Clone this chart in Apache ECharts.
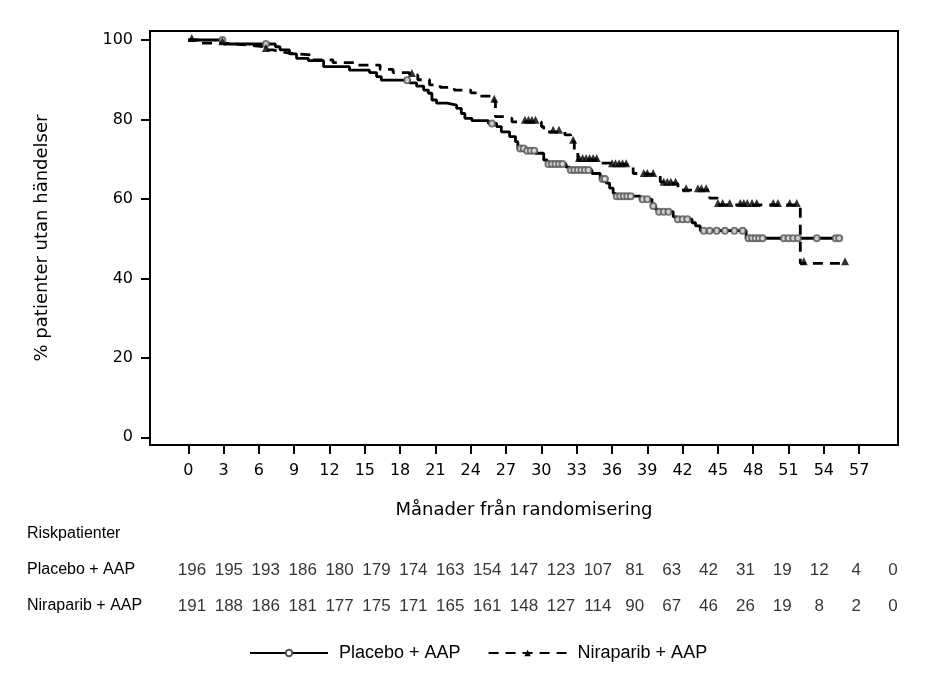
<!DOCTYPE html>
<html>
<head>
<meta charset="utf-8">
<script src="https://cdn.jsdelivr.net/npm/echarts@6/dist/echarts.min.js"></script>
<style>
html,body{margin:0;padding:0;background:#fff;}
#chart{width:945px;height:688px;}
</style>
</head>
<body>
<div id="chart"></div>
<script>
// ---- Data ----
const xTicks = [0,3,6,9,12,15,18,21,24,27,30,33,36,39,42,45,48,51,54,57];
const yTicks = [0,20,40,60,80,100];

const placeboTimes = [0,3.0,7.4,7.8,8.6,9.2,10.2,11.5,13.7,15.4,16.0,16.4,18.8,19.4,20.0,20.4,20.7,21.1,22.0,22.8,23.2,23.5,24.1,25.5,26.2,26.6,27.3,27.8,28.0,28.6,29.5,30.2,30.5,32.1,32.4,34.3,35.0,35.5,35.8,36.1,36.3,38.4,39.4,39.7,39.9,41.2,41.5,42.8,43.1,43.5,47.4,55.5];
const placeboSurv  = [100,99.0,98.3,97.5,96.5,95.4,94.8,93.3,92.4,91.8,90.8,89.9,89.2,88.4,87.4,86.6,84.9,84.1,83.6,82.8,81.5,80.3,79.7,79.0,78.2,76.9,75.7,74.4,72.7,72.1,71.5,69.8,68.8,68.0,67.3,66.4,65.0,64.0,62.7,61.4,60.7,59.9,58.2,57.4,56.8,55.5,54.9,54.0,53.2,52.0,50.1,50.1];

const niraTimes = [0,1.0,3.0,5.2,6.4,7.2,7.8,8.6,10.6,12.3,14.3,16.3,17.4,18.8,19.5,20.5,21.4,22.6,24.0,24.5,25.8,26.1,26.8,27.5,30.0,30.2,32.0,32.5,32.8,33.1,35.0,35.8,37.8,38.5,40.1,40.3,41.6,44.3,45.0,52.0,55.9];
const niraSurv  = [100,99.2,98.7,98.3,97.5,97.1,96.7,96.2,95.0,94.3,93.7,92.6,91.8,91.2,90.0,88.7,88.1,87.4,86.7,85.9,84.7,80.7,80.3,79.4,78.2,76.9,76.1,74.4,72.0,69.8,69.0,68.5,66.4,66.0,64.3,63.8,62.2,60.2,58.5,43.8,43.8];

const placeboCensor = [2.9,6.6,18.6,25.8,28.2,28.5,28.8,29.1,29.4,30.6,30.9,31.2,31.5,31.8,32.5,32.8,33.1,33.4,33.7,34.0,35.2,35.4,36.4,36.7,37.0,37.3,37.6,38.6,39.0,39.5,40.0,40.4,40.8,41.6,42.0,42.4,43.8,44.3,44.9,45.6,46.4,47.1,47.6,47.9,48.2,48.5,48.8,50.6,51.0,51.4,51.8,53.4,55.0,55.3];
const niraCensor = [0.3,2.9,6.6,19.0,26.0,28.6,28.9,29.2,29.5,31.0,31.5,32.7,33.2,33.5,33.8,34.1,34.4,34.7,36.0,36.3,36.6,36.9,37.2,38.7,39.0,39.5,40.4,40.7,41.0,41.4,42.3,43.3,43.6,44.0,45.0,45.4,46.0,46.9,47.2,47.5,47.9,48.3,49.7,50.1,51.1,51.7,52.3,55.8];

const riskRows = ['Riskpatienter','Placebo + AAP','Niraparib + AAP'];
const riskMonths = [0,3,6,9,12,15,18,21,24,27,30,33,36,39,42,45,48,51,54,57];
const placeboRisk = [196,195,193,186,180,179,174,163,154,147,123,107,81,63,42,31,19,12,4,0];
const niraRisk    = [191,188,186,181,177,175,171,165,161,148,127,114,90,67,46,26,19,8,2,0];

// ---- helpers ----
function pairs(t, s){ return t.map((x,i)=>[x, s[i]]); }
function survAt(t, s, x){ let v = s[0]; for (let i=0;i<t.length;i++){ if (t[i] <= x) v = s[i]; } return v; }

const placeboLine = pairs(placeboTimes, placeboSurv);
const niraLine = pairs(niraTimes, niraSurv);
const placeboMarks = placeboCensor.map(x => [x, survAt(placeboTimes, placeboSurv, x)]);
const niraMarks = niraCensor.map(x => [x, survAt(niraTimes, niraSurv, x)]);
const riskData = [];
riskMonths.forEach((m,i)=>{ riskData.push([m, riskRows[1], placeboRisk[i]]); riskData.push([m, riskRows[2], niraRisk[i]]); });

const TICKFONT = 'DejaVu Sans';
const TABLEFONT = 'Liberation Sans';

const chart = echarts.init(document.getElementById('chart'), null, {renderer:'canvas'});
chart.setOption({
  animation: false,
  backgroundColor: '#fff',
  grid: [
    {left:150, right:47, top:31, bottom:243, show:true, borderColor:'#000', borderWidth:2, backgroundColor:'transparent'},
    {left:192, right:52, top:516, height:108}
  ],
  xAxis: [
    {
      gridIndex:0, type:'value', min:-3.25, max:60.3,
      name:'Månader från randomisering', nameLocation:'middle', nameGap:56,
      nameTextStyle:{fontFamily:TICKFONT, fontSize:18, color:'#000'},
      axisLine:{show:true, onZero:false, lineStyle:{color:'#000', width:2}},
      axisTick:{show:true, customValues:xTicks, length:9, lineStyle:{color:'#000', width:2}},
      axisLabel:{show:true, customValues:xTicks, fontFamily:TICKFONT, fontSize:16, color:'#000', margin:18},
      splitLine:{show:false}
    },
    {gridIndex:1, type:'value', min:0, max:57, show:false}
  ],
  yAxis: [
    {
      gridIndex:0, type:'value', min:-1.94, max:102.27,
      name:'% patienter utan händelser', nameLocation:'middle', nameGap:99,
      nameTextStyle:{fontFamily:TICKFONT, fontSize:18, color:'#000'},
      axisLine:{show:true, onZero:false, lineStyle:{color:'#000', width:2}},
      axisTick:{show:true, customValues:yTicks, length:9, lineStyle:{color:'#000', width:2}},
      axisLabel:{show:true, customValues:yTicks, fontFamily:TICKFONT, fontSize:16, color:'#000', margin:17},
      splitLine:{show:false}
    },
    {
      gridIndex:1, type:'category', data:riskRows, inverse:true,
      axisLine:{show:false}, axisTick:{show:false}, splitLine:{show:false},
      axisLabel:{show:true, align:'left', margin:165, fontFamily:TABLEFONT, fontSize:16, color:'#000'}
    }
  ],
  legend: {
    top: 639, left: 244,
    data: ['Placebo + AAP','Niraparib + AAP'],
    itemWidth: 78, itemHeight: 8, itemGap: 27,
    textStyle:{fontFamily:TABLEFONT, fontSize:18, color:'#000', padding:[0,0,0,6]},
    selectedMode:false
  },
  series: [
    {
      name:'Placebo + AAP', type:'line', xAxisIndex:0, yAxisIndex:0, step:'end',
      data: placeboLine, showSymbol:false, symbol:'emptyCircle', symbolSize:6,
      lineStyle:{color:'#000', width:2.8}, itemStyle:{color:'#555'}, z:3
    },
    {
      name:'Niraparib + AAP', type:'line', xAxisIndex:0, yAxisIndex:0, step:'end',
      data: niraLine, showSymbol:false, symbol:'triangle', symbolSize:7,
      lineStyle:{color:'#000', width:2.8, type:[10,7]}, itemStyle:{color:'#000'}, z:3
    },
    {
      name:'Placebo censor', type:'scatter', xAxisIndex:0, yAxisIndex:0,
      data: placeboMarks, symbol:'emptyCircle', symbolSize:6,
      itemStyle:{color:'#555', borderWidth:1}, z:4, silent:true
    },
    {
      name:'Niraparib censor', type:'scatter', xAxisIndex:0, yAxisIndex:0,
      data: niraMarks, symbol:'triangle', symbolSize:8, symbolOffset:[0,-2],
      itemStyle:{color:'#000'}, z:4, silent:true
    },
    {
      name:'Risk', type:'scatter', xAxisIndex:1, yAxisIndex:1,
      data: riskData, symbolSize:1, itemStyle:{color:'rgba(0,0,0,0)'},
      label:{show:true, position:'inside', formatter:p=>String(p.value[2]),
             fontFamily:TABLEFONT, fontSize:17, color:'#000'},
      labelLayout:{hideOverlap:false}, silent:true
    }
  ]
});
</script>
</body>
</html>
